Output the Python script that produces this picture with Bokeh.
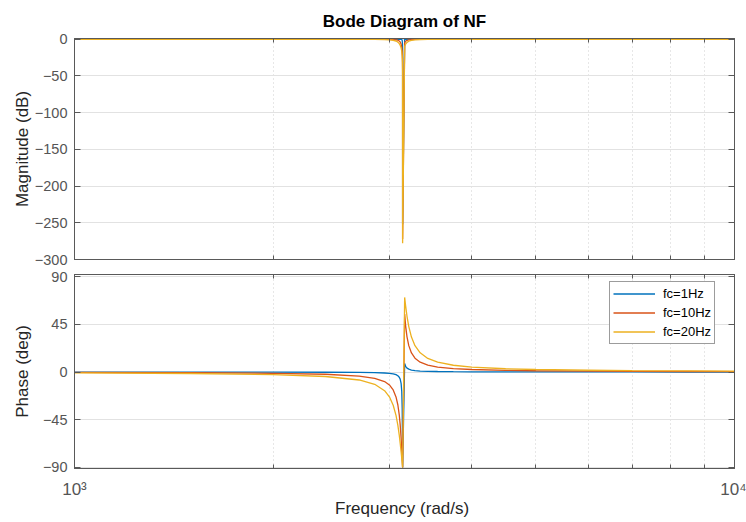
from bokeh.plotting import figure
from bokeh.layouts import column
from bokeh.models import (Range1d, FixedTicker, LogAxis, LinearAxis,
                          CustomJSTickFormatter, Legend, LegendItem)
from bokeh.embed import file_html
from bokeh.resources import INLINE

# Frequency grid (rad/s), dense around the 500 Hz notch
freq = [1000, 1500, 2000, 2400, 2700, 2850, 2950, 3000, 3040, 3070, 3090, 3105,
        3115, 3125, 3132, 3137, 3140, 3141.3, 3141.6, 3164, 3175, 3190, 3210,
        3240, 3280, 3340, 3430, 3550, 3750, 4000, 4500, 5000, 6000, 7000, 8500,
        10000]

# Magnitude (dB)
mag_fc1 = [0, 0, 0, 0, 0, 0, 0, 0, 0, 0, 0, 0, -0.1, -0.2, -0.4, -1.7, -6.9,
           -20.4, -252, -0.1, 0, 0, 0, 0, 0, 0, 0, 0, 0, 0, 0, 0, 0, 0, 0, 0]
mag_fc10 = [0, 0, 0, 0, 0, -0.1, -0.1, -0.2, -0.4, -0.8, -1.3, -2.4, -3.7, -6.6,
            -10.7, -16.8, -25.9, -40.4, -272, -4.8, -2.8, -1.5, -0.9, -0.4,
            -0.2, -0.1, -0.1, 0, 0, 0, 0, 0, 0, 0, 0, 0]
mag_fc20 = [0, 0, 0, 0, -0.1, -0.2, -0.4, -0.8, -1.4, -2.4, -3.9, -6.0, -8.2,
            -11.8, -16.4, -22.7, -31.9, -46.4, -278, -9.5, -6.6, -4.3, -2.7,
            -1.5, -0.9, -0.4, -0.2, -0.1, -0.1, 0, 0, 0, 0, 0, 0, 0]

# Phase (deg)
phase_fc1 = [0.0, -0.1, -0.1, -0.2, -0.4, -0.6, -0.9, -1.2, -1.7, -2.5, -3.5,
             -4.9, -6.7, -10.7, -18.1, -34.3, -63.0, -84.5, -90.0, 8.0, 5.4,
             3.7, 2.7, 1.9, 1.3, 0.9, 0.7, 0.5, 0.3, 0.2, 0.2, 0.1, 0.1, 0.1,
             0.0, 0.0]
phase_fc10 = [-0.4, -0.7, -1.2, -2.1, -3.8, -5.9, -9.0, -12.2, -16.9, -23.5,
              -31.1, -40.5, -49.6, -62.1, -73.0, -81.7, -87.1, -89.5, -90.0,
              54.6, 43.4, 33.2, 24.9, 18.0, 13.1, 9.3, 6.5, 4.7, 3.2, 2.4, 1.6,
              1.2, 0.8, 0.6, 0.5, 0.4]
phase_fc20 = [-0.8, -1.4, -2.5, -4.2, -7.5, -11.6, -17.6, -23.4, -31.3, -40.9,
              -50.4, -59.6, -67.0, -75.2, -81.3, -85.8, -88.5, -89.7, -90.0,
              70.4, 62.1, 52.6, 42.9, 33.0, 24.9, 18.1, 12.8, 9.3, 6.4, 4.7,
              3.1, 2.4, 1.7, 1.3, 1.0, 0.8]

series_labels = ["fc=1Hz", "fc=10Hz", "fc=20Hz"]
series_colors = ["#0072BD", "#D95319", "#EDB120"]

x_major = [1000, 10000]
x_minor = [2000, 3000, 4000, 5000, 6000, 7000, 8000, 9000]
mag_ticks = [-300, -250, -200, -150, -100, -50, 0]
phase_ticks = [-90, -45, 0, 45, 90]

FONT = "Liberation Sans"
AXIS_COLOR = "#595959"
TICK_TEXT = "#555555"
LABEL_TEXT = "#262626"
GRID = "#e2e2e2"

x_range = Range1d(1000, 10000)


def blank_formatter():
    return CustomJSTickFormatter(code="return ''")


def make_panel(height, y_range, yticks, border_top, border_bottom):
    p = figure(width=746, height=height, x_axis_type="log", x_range=x_range,
               y_range=y_range, output_backend="svg", toolbar_location=None,
               min_border_left=74, min_border_right=12,
               min_border_top=border_top, min_border_bottom=border_bottom)
    p.background_fill_color = "white"
    p.border_fill_color = "white"
    p.outline_line_color = AXIS_COLOR
    p.outline_line_width = 1

    xt = FixedTicker(ticks=x_major, minor_ticks=x_minor)
    yt = FixedTicker(ticks=yticks)

    left = p.left[0]
    left.ticker = yt
    left.major_tick_in = 6
    left.major_tick_out = 0
    left.minor_tick_in = 0
    left.minor_tick_out = 0
    left.axis_line_color = AXIS_COLOR
    left.major_tick_line_color = AXIS_COLOR
    left.major_label_text_font = FONT
    left.major_label_text_font_size = "14.5px"
    left.major_label_text_color = TICK_TEXT
    left.major_label_standoff = 7
    left.axis_label_text_font = FONT
    left.axis_label_text_font_size = "17px"
    left.axis_label_text_font_style = "normal"
    left.axis_label_text_color = LABEL_TEXT

    below = p.below[0]
    below.ticker = xt
    below.major_tick_in = 6
    below.major_tick_out = 0
    below.minor_tick_in = 4
    below.minor_tick_out = 0
    below.axis_line_color = AXIS_COLOR
    below.major_tick_line_color = AXIS_COLOR
    below.minor_tick_line_color = AXIS_COLOR

    right = LinearAxis(ticker=yt, formatter=blank_formatter(),
                       major_tick_in=6, major_tick_out=0, minor_tick_in=0,
                       minor_tick_out=0, major_label_standoff=0,
                       major_label_text_font_size="0px",
                       axis_line_color=AXIS_COLOR,
                       major_tick_line_color=AXIS_COLOR)
    p.add_layout(right, "right")
    above = LogAxis(ticker=xt, formatter=blank_formatter(),
                    major_tick_in=6, major_tick_out=0, minor_tick_in=4,
                    minor_tick_out=0, major_label_standoff=0,
                    major_label_text_font_size="0px",
                    axis_line_color=AXIS_COLOR,
                    major_tick_line_color=AXIS_COLOR,
                    minor_tick_line_color=AXIS_COLOR)
    p.add_layout(above, "above")

    p.xgrid.ticker = xt
    p.xgrid.grid_line_color = GRID
    p.xgrid.minor_grid_line_color = "#cfcfcf"
    p.xgrid.minor_grid_line_dash = "1 3"
    p.ygrid.ticker = yt
    p.ygrid.grid_line_color = GRID
    return p


# Magnitude panel
p_mag = make_panel(268, Range1d(-300, 1), mag_ticks, 38, 9)
p_mag.title.text = "Bode Diagram of NF"
p_mag.title.align = "center"
p_mag.title.text_font = FONT
p_mag.title.text_font_size = "17px"
p_mag.title.text_font_style = "bold"
p_mag.title.text_color = "black"
p_mag.title.standoff = 16
p_mag.below[0].formatter = blank_formatter()
p_mag.below[0].major_label_standoff = 0
p_mag.below[0].major_label_text_font_size = "0px"
p_mag.left[0].axis_label = "Magnitude (dB)"
p_mag.left[0].axis_label_standoff = 0

for mags, color in zip([mag_fc1, mag_fc10, mag_fc20], series_colors):
    p_mag.line(freq, mags, line_color=color, line_width=1.3)

# Phase panel
p_ph = make_panel(254, Range1d(-91, 92), phase_ticks, 6, 54)
p_ph.left[0].axis_label = "Phase (deg)"
p_ph.left[0].axis_label_standoff = 8
xb = p_ph.below[0]
xb.major_label_overrides = {1000: "10³", 10000: "10⁴"}
xb.major_label_text_font = FONT
xb.major_label_text_font_size = "17px"
xb.major_label_text_color = TICK_TEXT
xb.major_label_standoff = 11
xb.axis_label = "Frequency  (rad/s)"
xb.axis_label_text_font = FONT
xb.axis_label_text_font_size = "17px"
xb.axis_label_text_font_style = "normal"
xb.axis_label_text_color = LABEL_TEXT
xb.axis_label_standoff = -3

items = []
for phases, color, label in zip([phase_fc1, phase_fc10, phase_fc20],
                                series_colors, series_labels):
    r = p_ph.line(freq, phases, line_color=color, line_width=1.3)
    items.append(LegendItem(label=label, renderers=[r]))

legend = Legend(items=items, location=(535, 124))
legend.label_text_font = FONT
legend.label_text_font_size = "13px"
legend.label_text_color = "black"
legend.glyph_width = 42
legend.glyph_height = 17
legend.label_height = 17
legend.label_standoff = 8
legend.spacing = 2
legend.padding = 3
legend.margin = 0
legend.border_line_color = "#3a3a3a"
legend.border_line_width = 1
legend.background_fill_color = "white"
legend.background_fill_alpha = 1
p_ph.add_layout(legend)

layout = column(p_mag, p_ph, spacing=0)

with open("out.html", "w") as f:
    f.write(file_html(layout, INLINE))
